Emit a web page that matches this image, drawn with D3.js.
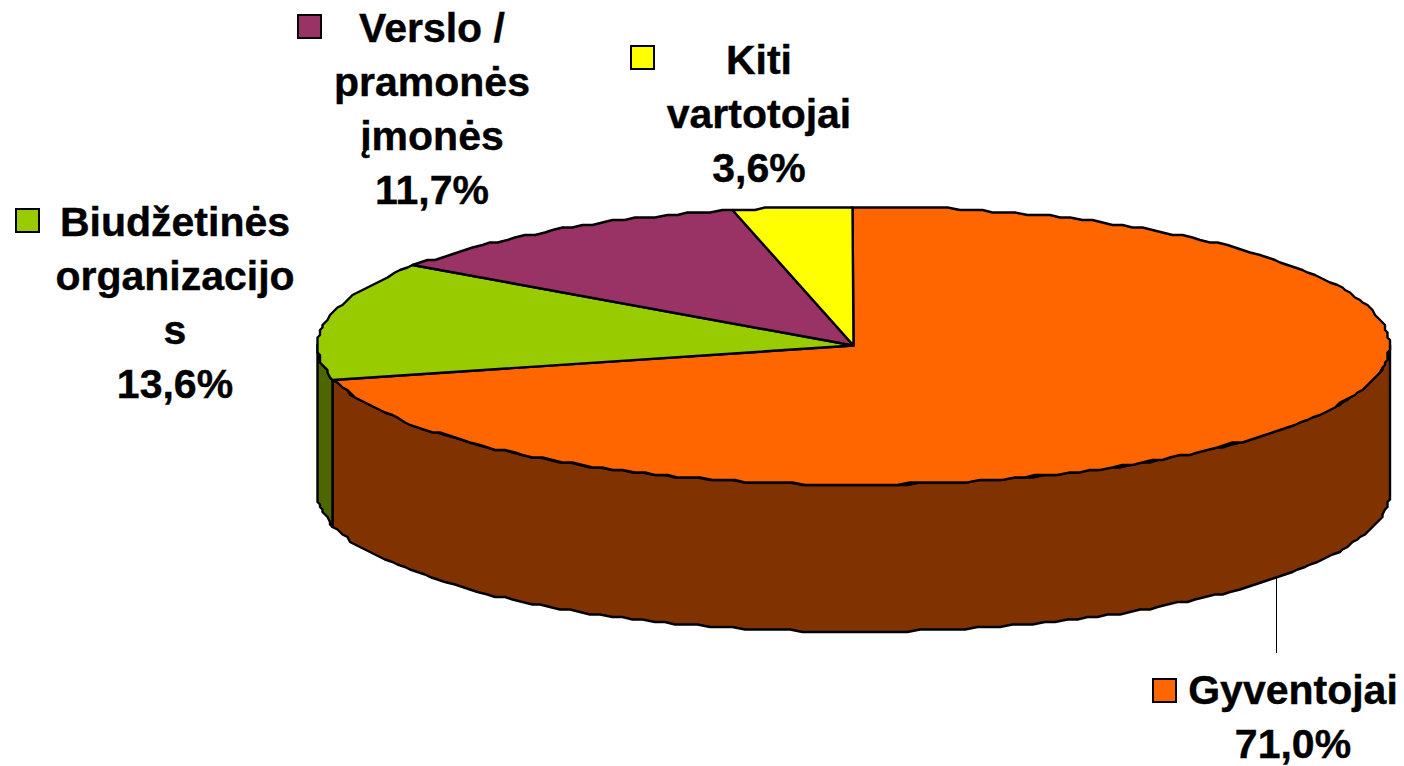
<!DOCTYPE html>
<html>
<head>
<meta charset="utf-8">
<script src="https://cdn.jsdelivr.net/npm/d3@7"></script>
<style>
    html, body { margin: 0; padding: 0; background: #fff; }
    svg { display: block; }
</style>
</head>
<body>
<script>
const categories = ["Gyventojai", "Biudžetinės organizacijos", "Verslo / pramonės įmonės", "Kiti vartotojai"];
const shares = [71.0, 13.6, 11.7, 3.6];
const shareLabels = ["71,0%", "13,6%", "11,7%", "3,6%"];
const labelLines = [
    ["Gyventojai"],
    ["Biudžetinės", "organizacijo", "s"],
    ["Verslo /", "pramonės", "įmonės"],
    ["Kiti", "vartotojai"]
];
const topColors = ["#ff6600", "#99cc00", "#993366", "#ffff00"];
const sideColors = ["#803300", "#4d6600", "#4d1a33", "#808000"];

function main(){
    const canvasWidth = 1404;
    const canvasHeight = 766;
    const cx = 853.5, cy = 345.5, rx = 536, ry = 139, depth = 147;
    const grid = 2.5; // the source is a coarse bitmap, edges wobble a little

    const svg = d3.select("body").append("svg")
        .attr("width", canvasWidth)
        .attr("height", canvasHeight);

    const x = d3.scaleLinear().domain([-1, 1]).range([cx - rx, cx + rx]);
    const y = d3.scaleLinear().domain([-1, 1]).range([cy - ry, cy + ry]);

    const pie = d3.pie().sort(null).value(d => d);
    const arcs = pie(shares);

    const snap = v => Math.round(v / grid) * grid;
    const line = d3.line();

    function rim(a0, a1, offset){
        const n = Math.max(2, Math.ceil((a1 - a0) / 0.022));
        return d3.range(n + 1).map(i => {
            const a = a0 + (a1 - a0) * i / n;
            return [snap(x(Math.sin(a))), snap(y(-Math.cos(a))) + offset];
        });
    }

    // side wall, only the part that faces the viewer
    const front = [Math.PI / 2, Math.PI * 3 / 2];
    const walls = svg.append("g");
    arcs.forEach((d, i) => {
        const a0 = Math.max(d.startAngle, front[0]);
        const a1 = Math.min(d.endAngle, front[1]);
        if (a1 <= a0) return;
        const pts = rim(a0, a1, 0).concat(rim(a0, a1, depth).reverse());
        walls.append("path")
            .attr("d", line(pts) + "Z")
            .attr("fill", sideColors[i])
            .attr("stroke", "#000")
            .attr("stroke-width", 2.4)
            .attr("stroke-linejoin", "round");
    });

    // top of the pie
    svg.append("g").selectAll("path")
        .data(arcs)
        .join("path")
        .attr("d", d => line([[x(0), y(0)]].concat(rim(d.startAngle, d.endAngle, 0))) + "Z")
        .attr("fill", (d, i) => topColors[i])
        .attr("stroke", "#000")
        .attr("stroke-width", 2.4)
        .attr("stroke-linejoin", "round");

    // leader line for Gyventojai
    svg.append("line")
        .attr("x1", 1276.5).attr("x2", 1276.5)
        .attr("y1", 578).attr("y2", 653)
        .attr("stroke", "#000")
        .attr("stroke-width", 1);

    // label boxes: text centre, first baseline, legend key corner
    const labelPos = [
        {cx: 1293, y: 703.5, kx: 1153, ky: 679},
        {cx: 175, y: 235.5, kx: 16, ky: 209},
        {cx: 432, y: 41.5, kx: 298, ky: 15},
        {cx: 759, y: 73.5, kx: 631, ky: 46}
    ];
    const lineHeight = 54;

    const labels = svg.append("g")
        .attr("font-family", "'Liberation Sans', Arial, sans-serif")
        .attr("font-weight", "bold")
        .attr("font-size", "41px")
        .attr("fill", "#000")
        .attr("text-anchor", "middle");

    categories.forEach((name, i) => {
        const p = labelPos[i];
        const lines = labelLines[i].concat(shareLabels[i]);
        const g = labels.append("g").attr("class", "label").attr("data-name", name);
        g.append("rect")
            .attr("x", p.kx).attr("y", p.ky)
            .attr("width", 23).attr("height", 23)
            .attr("fill", topColors[i])
            .attr("stroke", "#000")
            .attr("stroke-width", 2);
        lines.forEach((t, j) => {
            g.append("text")
                .attr("x", p.cx)
                .attr("y", p.y + j * lineHeight)
                .attr("stroke", "#000")
                .attr("stroke-width", 0.4)
                .text(t);
        });
    });
}
main();
</script>
</body>
</html>
